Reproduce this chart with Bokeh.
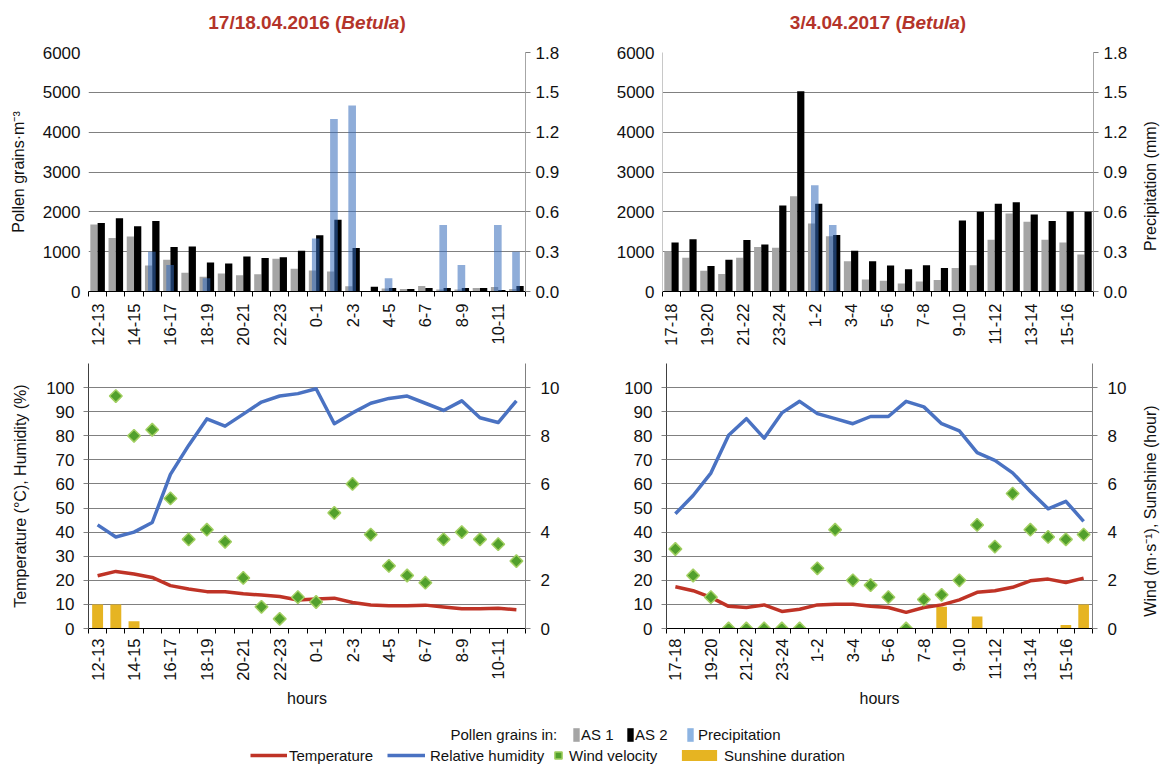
import math
import numpy as np
from bokeh.plotting import figure
from bokeh.models import (Range1d, LinearAxis, FixedTicker, Label, Legend, LegendItem,
                          ColumnDataSource, NumeralTickFormatter, Grid)
from bokeh.layouts import column, row
from bokeh.embed import file_html
from bokeh.resources import INLINE

FONT = "Liberation Sans"

# ---------------- data ----------------
hours16 = ["12-13", "13-14", "14-15", "15-16", "16-17", "17-18", "18-19", "19-20", "20-21", "21-22",
           "22-23", "23-24", "0-1", "1-2", "2-3", "3-4", "4-5", "5-6", "6-7", "7-8", "8-9", "9-10",
           "10-11", "11-12"]
as1_16 = [1680, 1340, 1380, 650, 800, 470, 370, 450, 410, 430, 820, 570, 530, 500, 130, 0, 75, 60,
          135, 50, 50, 90, 110, 65]
as2_16 = [1720, 1840, 1640, 1770, 1120, 1130, 730, 700, 880, 840, 860, 1020, 1410, 1800, 1090, 120,
          85, 65, 85, 85, 85, 85, 40, 135]
precip16 = [0, 0, 0, 0.3, 0.2, 0, 0.1, 0, 0, 0, 0, 0, 0.4, 1.3, 1.4, 0, 0.1, 0, 0, 0.5, 0.2, 0, 0.5, 0.3]
temp16 = [21.9, 23.7, 22.6, 21.2, 17.8, 16.4, 15.3, 15.3, 14.4, 13.9, 13.3, 11.8, 12.2, 12.6, 10.8,
          9.8, 9.4, 9.4, 9.7, 8.9, 8.2, 8.2, 8.4, 7.8]
hum16 = [43, 38, 40, 44, 64, 76, 87, 84, 89, 94, 96.5, 97.5, 99.5, 85, 89.5, 93.5, 95.5, 96.5, 93.5,
         90.5, 94.5, 87.5, 85.5, 94.5]
wind16 = [float("nan"), 9.65, 8.0, 8.25, 5.4, 3.7, 4.1, 3.6, 2.1, 0.9, 0.4, 1.3, 1.1, 4.8, 6.0, 3.9,
          2.6, 2.2, 1.9, 3.7, 4.0, 3.7, 3.5, 2.8]
sun16 = [1.0, 1.0, 0.3, 0, 0, 0, 0, 0, 0, 0, 0, 0, 0, 0, 0, 0, 0, 0, 0, 0, 0, 0, 0, 0]

hours17 = ["17-18", "18-19", "19-20", "20-21", "21-22", "22-23", "23-24", "0-1", "1-2", "2-3", "3-4",
           "4-5", "5-6", "6-7", "7-8", "8-9", "9-10", "10-11", "11-12", "12-13", "13-14", "14-15",
           "15-16", "16-17"]
as1_17 = [1010, 850, 520, 440, 850, 1120, 1100, 2390, 1710, 1390, 760, 300, 270, 200, 250, 290, 590,
          660, 1300, 1960, 1750, 1300, 1230, 930]
as2_17 = [1230, 1310, 640, 800, 1290, 1180, 2160, 5030, 2200, 1420, 1020, 760, 650, 560, 660, 590,
          1780, 2000, 2200, 2240, 1930, 1770, 2010, 2000]
precip17 = [0, 0, 0, 0, 0, 0, 0, 0, 0.8, 0.5, 0, 0, 0, 0, 0, 0, 0, 0, 0, 0, 0, 0, 0, 0]
temp17 = [17.3, 15.7, 12.9, 9.2, 8.7, 9.8, 7.1, 8.0, 9.8, 10.1, 10.1, 9.2, 8.7, 6.7, 8.7, 9.8, 11.9,
          15.0, 15.7, 17.1, 19.8, 20.5, 19.1, 20.9]
hum17 = [47.6, 55.2, 64.5, 80.2, 87.1, 79, 89.5, 94.3, 89.2, 87.1, 85, 88, 88, 94.3, 92, 85, 82, 73,
         69.8, 64.6, 56.9, 49.7, 52.8, 44.5]
wind17 = [3.3, 2.2, 1.3, 0, 0, 0, 0, 0, 2.5, 4.1, 2.0, 1.8, 1.3, 0, 1.2, 1.4, 2.0, 4.3, 3.4, 5.6, 4.1,
          3.8, 3.7, 3.9]
sun17 = [0, 0, 0, 0, 0, 0, 0, 0, 0, 0, 0, 0, 0, 0, 0, 0.9, 0, 0.5, 0, 0, 0, 0, 0.15, 1.0]

pollen_ticks = [0, 1000, 2000, 3000, 4000, 5000, 6000]
precip_ticks = [0.0, 0.3, 0.6, 0.9, 1.2, 1.5, 1.8]
th_ticks = [0, 10, 20, 30, 40, 50, 60, 70, 80, 90, 100]
th_grid = [10, 20, 30, 40, 50, 60, 70, 80, 90, 100, 110]
ws_ticks = [0, 2, 4, 6, 8, 10]

# ---------------- styles ----------------
GREY = "#A5A5A5"
BLACK = "#000000"
PREC = "#3369B9"
RED = "#BF3326"
BLUE = "#4A72C2"
GREEN = "#52A02C"
GREEN_L = "#A2CF62"
YELLOW = "#E6B422"
TITLE_C = "#B4342A"
GRID_C = "#808080"
TXT = "#111111"

BOLD_W = {"0": .556, "1": .556, "2": .556, "3": .556, "4": .556, "5": .556, "6": .556, "7": .556,
          "8": .556, "9": .556, "/": .278, ".": .278, " ": .278, "(": .333, ")": .333,
          "B": .722, "e": .556, "t": .333, "u": .611, "l": .278, "a": .556}

TOP_MT, TOP_FH = 14, 239
BOT_MT, BOT_FH = 15, 265


def em(s):
    return sum(BOLD_W.get(c, .556) for c in s)


def strip(w, h):
    return figure(frame_width=w, frame_height=h, x_range=Range1d(0, w), y_range=Range1d(0, h),
                  x_axis_type=None, y_axis_type=None, toolbar_location=None,
                  output_backend="svg", min_border=0, outline_line_color=None)


def add_title(p, cx, cy, date_text):
    fs = 19
    parts = [(date_text + " (", "bold"), ("Betula", "bold italic"), (")", "bold")]
    total = sum(em(t) for t, _ in parts) * fs
    x = cx - total / 2
    for t, st in parts:
        p.add_layout(Label(x=x, y=cy, x_units="screen", y_units="screen", text=t,
                           text_font=FONT, text_font_size=f"{fs}px", text_font_style=st,
                           text_color=TITLE_C, text_align="left", text_baseline="middle"))
        x += em(t) * fs


def x_axis(p, cats, label=None, standoff=7):
    n = len(cats)
    ticks = [i + 0.5 for i in range(0, n, 2)]
    ax = LinearAxis(ticker=FixedTicker(ticks=ticks, minor_ticks=list(range(n + 1))),
                    major_label_overrides={i + 0.5: cats[i] for i in range(0, n, 2)},
                    major_label_orientation=math.pi / 2,
                    major_tick_out=0, major_tick_in=0,
                    minor_tick_out=5, minor_tick_in=0, minor_tick_line_color="black",
                    axis_line_color="black", axis_line_width=1,
                    major_label_standoff=standoff,
                    major_label_text_font=FONT, major_label_text_font_size="16.5px",
                    major_label_text_color=TXT)
    if label:
        ax.axis_label = label
        ax.axis_label_text_font = FONT
        ax.axis_label_text_font_size = "16px"
        ax.axis_label_text_font_style = "normal"
        ax.axis_label_standoff = 6
        ax.axis_label_text_color = TXT
    p.add_layout(ax, "below")


def y_axis(p, side, ticks, range_name=None, label=None, tick_out=0, standoff=8, line_color=None,
           label_standoff=12, fmt=None):
    kw = {}
    if range_name:
        kw["y_range_name"] = range_name
    ax = LinearAxis(ticker=FixedTicker(ticks=ticks), major_tick_out=tick_out, major_tick_in=0,
                    major_tick_line_color="#808080", minor_tick_line_color=None,
                    axis_line_color=line_color, major_label_standoff=standoff,
                    major_label_text_font=FONT, major_label_text_font_size="17px",
                    major_label_text_color=TXT, **kw)
    if fmt:
        ax.formatter = NumeralTickFormatter(format=fmt)
    if label:
        ax.axis_label = label
        ax.axis_label_text_font = FONT
        ax.axis_label_text_font_size = "16px"
        ax.axis_label_text_font_style = "normal"
        ax.axis_label_standoff = label_standoff
        ax.axis_label_text_color = TXT
    p.add_layout(ax, side)


def top_chart(cats, as1, as2, prec, fw, mbl, mbr, left_label, left_line):
    p = figure(frame_width=fw, frame_height=TOP_FH, x_range=Range1d(0, 24),
               y_range=Range1d(0, 6000), toolbar_location=None, output_backend="svg",
               min_border_left=mbl, min_border_right=mbr, min_border_top=TOP_MT,
               min_border_bottom=50, x_axis_type=None, y_axis_type=None, outline_line_color=None)
    p.extra_y_ranges = {"prec": Range1d(0, 1.8)}
    p.add_layout(Grid(dimension=1, ticker=FixedTicker(ticks=pollen_ticks[1:]),
                      grid_line_color=GRID_C, grid_line_width=1))
    xs = np.arange(len(cats))
    src = ColumnDataSource(dict(x1=xs + 0.3, x2=xs + 0.7, xp=xs + 0.48,
                                as1=as1, as2=as2, prec=prec))
    p.vbar(x="x1", top="as1", width=0.4, source=src, fill_color=GREY, line_color=None)
    p.vbar(x="x2", top="as2", width=0.4, source=src, fill_color=BLACK, line_color=None)
    p.vbar(x="xp", top="prec", width=0.42, source=src, fill_color=PREC, fill_alpha=0.55,
           line_color=None, y_range_name="prec")
    y_axis(p, "left", pollen_ticks, label=left_label, tick_out=0, standoff=8, line_color=left_line,
           label_standoff=13)
    y_axis(p, "right", precip_ticks, range_name="prec", tick_out=5, standoff=5,
           line_color="#A6A6A6", fmt="0.0")
    x_axis(p, cats, standoff=7)
    return p


def bottom_chart(cats, temp, hum, wind, sun, fw, mbl, mbr, left_label):
    p = figure(frame_width=fw, frame_height=BOT_FH, x_range=Range1d(0, 24),
               y_range=Range1d(0, 110), toolbar_location=None, output_backend="svg",
               min_border_left=mbl, min_border_right=mbr, min_border_top=BOT_MT,
               min_border_bottom=70, x_axis_type=None, y_axis_type=None, outline_line_color=None)
    p.extra_y_ranges = {"ws": Range1d(0, 11)}
    p.add_layout(Grid(dimension=1, ticker=FixedTicker(ticks=th_grid),
                      grid_line_color=GRID_C, grid_line_width=1))
    xs = np.arange(len(cats)) + 0.5
    src = ColumnDataSource(dict(x=xs, temp=temp, hum=hum, wind=wind, sun=sun))
    p.vbar(x="x", top="sun", width=0.6, source=src, fill_color=YELLOW, line_color=None,
           y_range_name="ws")
    p.line(x="x", y="temp", source=src, line_color=RED, line_width=3.5, line_join="round")
    p.line(x="x", y="hum", source=src, line_color=BLUE, line_width=3.5, line_join="round")
    p.scatter(x="x", y="wind", source=src, marker="square", angle=math.pi / 4, size=9,
              fill_color=GREEN, line_color=GREEN_L, line_width=1.5, y_range_name="ws")
    y_axis(p, "left", th_ticks, label=left_label, tick_out=5, standoff=9, line_color="#404040",
           label_standoff=14)
    y_axis(p, "right", ws_ticks, range_name="ws", tick_out=5, standoff=10,
           line_color="#808080")
    x_axis(p, cats, label="hours", standoff=5)
    return p


def side_label(h, center_from_top, text):
    s = strip(31, h)
    s.add_layout(Label(x=19, y=h - center_from_top, x_units="screen", y_units="screen", text=text,
                       angle=math.pi / 2, text_font=FONT, text_font_size="16px",
                       text_color=TXT, text_align="center", text_baseline="middle"))
    return s


# ---------------- title strip ----------------
ttl = strip(1160, 38)
add_title(ttl, 306.5, 16, "17/18.04.2016")
add_title(ttl, 877.5, 16, "3/4.04.2017")

tl = top_chart(hours16, as1_16, as2_16, precip16, 437, 88, 65, "Pollen grains·m⁻³", None)
tr = top_chart(hours17, as1_17, as2_17, precip17, 431, 72, 38, None, "#C8C8C8")
tr_lab = side_label(280, TOP_MT + TOP_FH / 2, "Precipitation (mm)")

bl = bottom_chart(hours16, temp16, hum16, wind16, sun16, 437, 88, 65,
                  "Temperature (°C), Humidity (%)")
br = bottom_chart(hours17, temp17, hum17, wind17, sun17, 426, 76, 39, None)
br_lab = side_label(300, BOT_MT + BOT_FH / 2, "Wind (m·s⁻¹), Sunshine (hour)")

# ---------------- legend strip ----------------
leg = strip(1160, 56)
dummy = ColumnDataSource(dict(x=[-100], y=[-100]))
r_as1 = leg.vbar(x="x", top="y", width=1, source=dummy, fill_color=GREY, line_color=None)
r_as2 = leg.vbar(x="x", top="y", width=1, source=dummy, fill_color=BLACK, line_color=None)
r_pr = leg.vbar(x="x", top="y", width=1, source=dummy, fill_color="#8DB4E2", line_color=None)
r_t = leg.line(x="x", y="y", source=dummy, line_color=RED, line_width=3.5)
r_h = leg.line(x="x", y="y", source=dummy, line_color=BLUE, line_width=3.5)
r_w = leg.scatter(x="x", y="y", source=dummy, marker="square", angle=math.pi / 4, size=9,
                  fill_color=GREEN, line_color=GREEN_L, line_width=1.5)
r_s = leg.vbar(x="x", top="y", width=1, source=dummy, fill_color=YELLOW, line_color=None)


def add_leg(r, label, x, y, gw, gh, standoff):
    lg = Legend(items=[LegendItem(label=label, renderers=[r])], location=(x, y),
                orientation="horizontal", padding=0, margin=0, spacing=0,
                glyph_width=gw, glyph_height=gh, label_standoff=standoff, label_height=18,
                label_text_font=FONT, label_text_font_size="15px", label_text_color=TXT,
                border_line_color=None, background_fill_alpha=0)
    leg.add_layout(lg)


ROW1_Y, ROW2_Y = 22, 1
leg.add_layout(Label(x=450, y=ROW1_Y + 9, x_units="screen", y_units="screen",
                     text="Pollen grains in:", text_font=FONT, text_font_size="15px",
                     text_color=TXT, text_baseline="middle", text_align="left"))
add_leg(r_as1, "AS 1", 572, ROW1_Y, 8, 17, 1)
add_leg(r_as2, "AS 2", 626, ROW1_Y, 8, 17, 1)
add_leg(r_pr, "Precipitation", 686, ROW1_Y, 8, 17, 4)
add_leg(r_t, "Temperature", 250, ROW2_Y, 37, 14, 2)
add_leg(r_h, "Relative humidity", 387, ROW2_Y, 38, 14, 5)
add_leg(r_w, "Wind velocity", 549, ROW2_Y, 18, 18, 2)
add_leg(r_s, "Sunshine duration", 677, ROW2_Y, 44, 14, 3)

layout = column(ttl, row(tl, tr, tr_lab), row(bl, br, br_lab), leg)

with open("out.html", "w") as f:
    f.write(file_html(layout, INLINE))
